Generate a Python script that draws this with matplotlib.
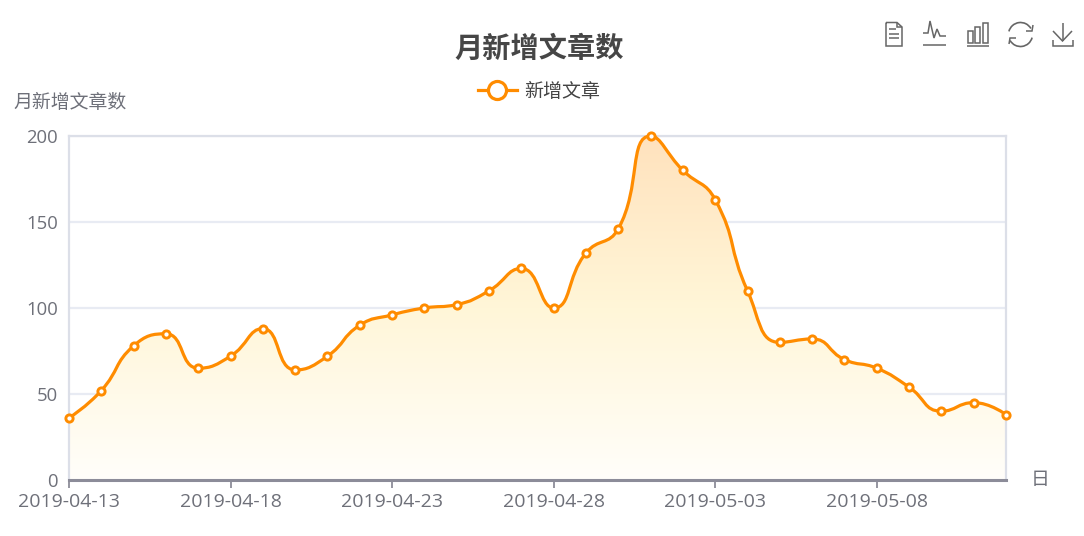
# -*- coding: utf-8 -*-
import numpy as np
import matplotlib
matplotlib.use('Agg')
import matplotlib.pyplot as plt
from matplotlib.path import Path
from matplotlib.patches import PathPatch, Arc, Rectangle
from matplotlib.lines import Line2D
from matplotlib.colors import LinearSegmentedColormap

plt.rcParams['font.family'] = ['Noto Sans CJK SC', 'DejaVu Sans']

dates = ['2019-04-13', '2019-04-14', '2019-04-15', '2019-04-16', '2019-04-17', '2019-04-18',
         '2019-04-19', '2019-04-20', '2019-04-21', '2019-04-22', '2019-04-23', '2019-04-24',
         '2019-04-25', '2019-04-26', '2019-04-27', '2019-04-28', '2019-04-29', '2019-04-30',
         '2019-05-01', '2019-05-02', '2019-05-03', '2019-05-04', '2019-05-05', '2019-05-06',
         '2019-05-07', '2019-05-08', '2019-05-09', '2019-05-10', '2019-05-11', '2019-05-12']
values = [36, 52, 78, 85, 65, 72, 88, 64, 72, 90, 96, 100, 102, 110, 123,
          100, 132, 146, 200, 180, 163, 110, 80, 82, 70, 65, 54, 40, 45, 38]
yticks = [0, 50, 100, 150, 200]
tickStep = 5

title = '月新增文章数'
seriesName = '新增文章'
yName = '月新增文章数'
xName = '日'

ORANGE = '#ff8c00'
TEXT = '#6e7079'
ICON = '#666666'
W, H = 1084, 536
LEFT, RIGHT, TOP, BOTTOM = 69, 1006, 136, 480


def smoothPath(px, py, smooth=0.5):
    # bezier through the points, control points never pass the neighbouring point
    n = len(px)
    verts = [(px[0], py[0])]
    codes = [Path.MOVETO]
    cpx, cpy = px[0], py[0]
    for i in range(1, n):
        x, y = px[i], py[i]
        if i == n - 1:
            c0x, c0y, nx, ny = x, y, x, y
        else:
            prevX, prevY = px[i - 1], py[i - 1]
            nextX, nextY = px[i + 1], py[i + 1]
            vx, vy = nextX - prevX, nextY - prevY
            lenPrev = np.hypot(x - prevX, y - prevY)
            lenNext = np.hypot(nextX - x, nextY - y)
            r = lenNext / (lenNext + lenPrev)
            nx = np.clip(x + vx * smooth * r, min(nextX, x), max(nextX, x))
            ny = np.clip(y + vy * smooth * r, min(nextY, y), max(nextY, y))
            c0x = np.clip(x - (nx - x) * lenPrev / lenNext, min(prevX, x), max(prevX, x))
            c0y = np.clip(y - (ny - y) * lenPrev / lenNext, min(prevY, y), max(prevY, y))
            nx = x + (x - c0x) * lenNext / lenPrev
            ny = y + (y - c0y) * lenNext / lenPrev
        verts += [(cpx, cpy), (c0x, c0y), (x, y)]
        codes += [Path.CURVE4] * 3
        cpx, cpy = nx, ny
    return verts, codes


fig = plt.figure(figsize=(W / 100, H / 100), dpi=100)
ax = fig.add_axes([LEFT / W, 1 - BOTTOM / H, (RIGHT - LEFT) / W, (BOTTOM - TOP) / H])
xs = np.arange(len(values))
ax.set_xlim(0, len(values) - 1)
ax.set_ylim(0, 200)

# smooth line, worked out in pixels then mapped back to data
pix = ax.transData.transform(np.column_stack([xs, values]))
verts, codes = smoothPath(pix[:, 0], pix[:, 1])
verts = ax.transData.inverted().transform(np.array(verts))

# gradient area under the line
cmap = LinearSegmentedColormap.from_list('area', ['#fffefa', '#fff6d8', '#ffe2bd'])
grad = np.linspace(1, 0, 256).reshape(-1, 1)
im = ax.imshow(grad, cmap=cmap, extent=(0, len(values) - 1, 0, 200), aspect='auto', zorder=1)
areaVerts = np.vstack([verts, [[xs[-1], 0], [xs[0], 0], [xs[0], values[0]]]])
areaCodes = codes + [Path.LINETO, Path.LINETO, Path.LINETO]
clip = PathPatch(Path(areaVerts, areaCodes), transform=ax.transData, fc='none', ec='none')
ax.add_patch(clip)
im.set_clip_path(clip)

ax.add_patch(PathPatch(Path(verts, codes), fc='none', ec=ORANGE, lw=2.3, zorder=4, clip_on=False))
ax.plot(xs, values, ls='none', marker='o', ms=5.2, mfc='white', mec=ORANGE, mew=2.1, zorder=5, clip_on=False)

# grid and frame
ax.set_yticks(yticks)
ax.set_xticks(xs[::tickStep])
ax.set_xticklabels(dates[::tickStep])
ax.grid(axis='y', color='#e8ebf3', lw=1.6, zorder=0)
ax.set_axisbelow(True)
for s in ['top', 'left', 'right']:
    ax.spines[s].set_color('#dcdfe8')
    ax.spines[s].set_linewidth(1.6)
ax.spines['bottom'].set_color('#8c8c99')
ax.spines['bottom'].set_linewidth(2.2)
ax.tick_params(axis='y', length=0, labelsize=13.3, labelcolor=TEXT, pad=8)
ax.tick_params(axis='x', length=6, width=1.3, color='#8c8c99', labelsize=14, labelcolor=TEXT, pad=3.5)
for lab in ax.get_xticklabels() + ax.get_yticklabels():
    lab.set_fontfamily('Open Sans')

fig.text(539 / W, 1 - 49 / H, title, fontsize=20.3, fontweight='bold', color='#464646', ha='center', va='center')
fig.text(13 / W, 1 - 102.5 / H, yName, fontsize=13.6, color=TEXT, ha='left', va='center')
fig.text(1031 / W, 1 - 480 / H, xName, fontsize=13.6, color=TEXT, ha='left', va='center')

handle = Line2D([], [], color=ORANGE, lw=2.3, marker='o', ms=13, mfc='white', mec=ORANGE, mew=2.3)
leg = fig.legend(handles=[handle], labels=[seriesName], frameon=False, fontsize=13.7, labelcolor='#444444',
                 loc='center', bbox_to_anchor=(539 / W, 1 - 91.5 / H), handlelength=2.05, handletextpad=0.38)

# toolbox icons, drawn in pixel coordinates
ov = fig.add_axes([0, 0, 1, 1], facecolor='none')
ov.set_xlim(0, W)
ov.set_ylim(H, 0)
ov.axis('off')


def stroke(x, y, lw=1.1):
    ov.plot(x, y, color=ICON, lw=lw, solid_joinstyle='miter', solid_capstyle='butt')


# data view
stroke([886, 897, 902, 902, 886, 886], [22.5, 22.5, 27, 46, 46, 22.5])
stroke([897, 897, 902], [22.5, 27, 27])
stroke([889, 896], [29, 29])
stroke([889, 899], [34, 34])
stroke([889, 899], [38, 38])
# line
stroke([923, 946], [45, 45])
stroke([923, 928, 930, 934, 937, 940, 946], [33, 33, 21, 38, 29, 36, 36])
# bars
stroke([967, 989], [46, 46])
for bx, bt in [(967.5, 31), (975, 27), (982.5, 23)]:
    ov.add_patch(Rectangle((bx, bt), 5, 42.5 - bt, fc='none', ec=ICON, lw=1.1))
# refresh
ov.add_patch(Arc((1020.5, 34.5), 24, 24, theta1=195, theta2=330, ec=ICON, lw=1.2))
ov.add_patch(Arc((1020.5, 34.5), 24, 24, theta1=15, theta2=150, ec=ICON, lw=1.2))
stroke([1033, 1032, 1026], [25, 31, 31])
stroke([1009, 1010, 1016], [44, 38, 38])
# download
stroke([1062.5, 1062.5], [23, 41])
stroke([1053, 1062.5, 1072], [31, 41, 31])
stroke([1053, 1053, 1072.5, 1072.5], [40, 46, 46, 40])

fig.savefig('out.png', dpi=100)
